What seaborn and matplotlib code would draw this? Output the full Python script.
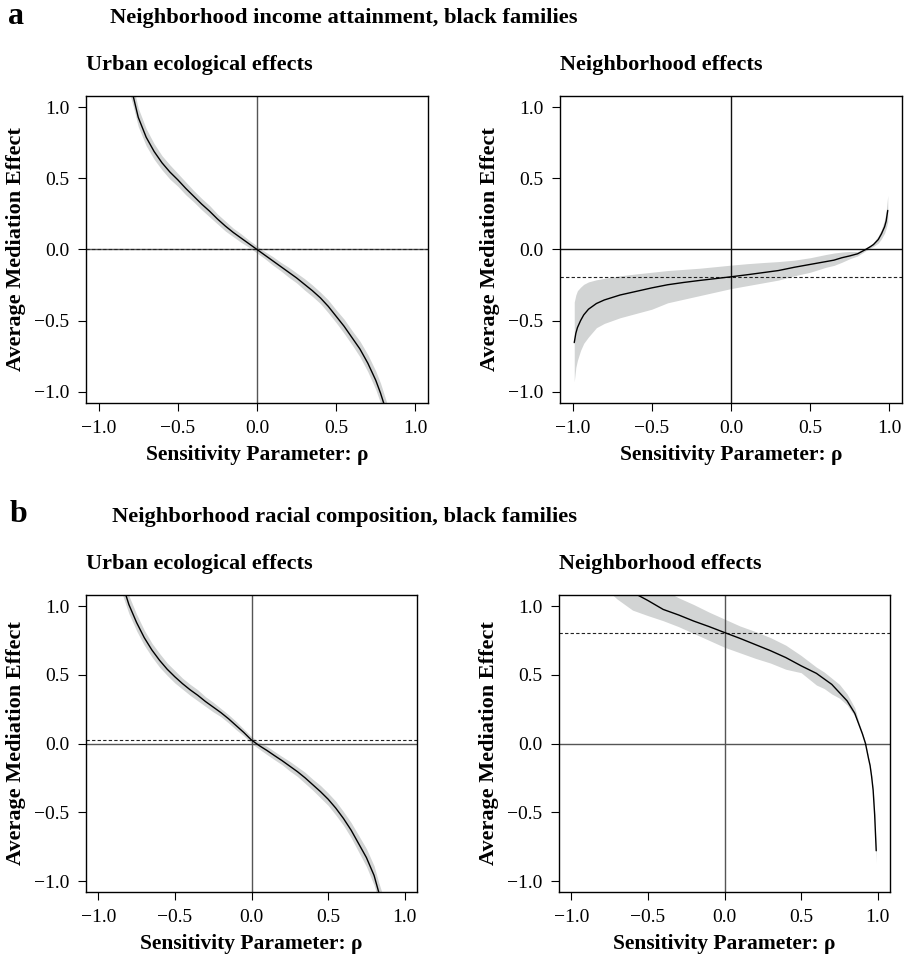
import numpy as np
import pandas as pd
import matplotlib
matplotlib.use("Agg")
import matplotlib.pyplot as plt
import seaborn as sns

# --- a: income attainment, urban ecological effects
a1_rho = [-0.80, -0.78, -0.75, -0.70, -0.65, -0.60, -0.55, -0.50, -0.45, -0.40, -0.35, -0.30,
          -0.25, -0.20, -0.15, -0.10, -0.05, 0.00, 0.05, 0.10, 0.15, 0.20, 0.25, 0.30, 0.35,
          0.40, 0.45, 0.50, 0.55, 0.60, 0.65, 0.70, 0.75, 0.78, 0.80, 0.82]
a1_est = [1.15, 1.07, 0.93, 0.79, 0.69, 0.61, 0.545, 0.49, 0.43, 0.375, 0.32, 0.27,
          0.215, 0.165, 0.12, 0.08, 0.04, 0.00, -0.04, -0.08, -0.12, -0.16, -0.20, -0.245, -0.29,
          -0.34, -0.40, -0.47, -0.54, -0.62, -0.70, -0.80, -0.92, -1.01, -1.08, -1.15]
a1_hw = [0.07, 0.07, 0.065, 0.06, 0.055, 0.05, 0.05, 0.045, 0.045, 0.04, 0.04, 0.04,
         0.035, 0.035, 0.03, 0.03, 0.025, 0.025, 0.025, 0.03, 0.03, 0.035, 0.035, 0.04, 0.04,
         0.04, 0.045, 0.045, 0.05, 0.05, 0.055, 0.06, 0.065, 0.07, 0.07, 0.07]
a1_acme = 0.0

# --- a: income attainment, neighborhood effects
a2_rho = [-0.99, -0.98, -0.97, -0.95, -0.93, -0.90, -0.85, -0.80, -0.70, -0.60, -0.50, -0.40,
          -0.30, -0.20, -0.10, 0.00, 0.10, 0.20, 0.30, 0.40, 0.50, 0.60, 0.65, 0.70, 0.75,
          0.80, 0.85, 0.88, 0.90, 0.93, 0.95, 0.97, 0.98, 0.99]
a2_est = [-0.655, -0.59, -0.55, -0.50, -0.46, -0.42, -0.38, -0.355, -0.32, -0.295, -0.27, -0.248,
          -0.232, -0.218, -0.205, -0.192, -0.178, -0.163, -0.148, -0.125, -0.105, -0.085, -0.075,
          -0.058, -0.045, -0.03, 0.0, 0.02, 0.035, 0.07, 0.11, 0.16, 0.20, 0.275]
a2_hi = [-0.37, -0.32, -0.29, -0.265, -0.245, -0.228, -0.213, -0.203, -0.185, -0.172, -0.16, -0.148,
         -0.14, -0.132, -0.121, -0.11, -0.10, -0.092, -0.085, -0.075, -0.058, -0.035, -0.025,
         -0.018, -0.014, -0.015, 0.005, 0.03, 0.05, 0.095, 0.14, 0.21, 0.27, 0.38]
a2_lo = [-0.93, -0.83, -0.78, -0.71, -0.66, -0.615, -0.55, -0.52, -0.48, -0.45, -0.42, -0.375,
         -0.35, -0.325, -0.30, -0.275, -0.255, -0.235, -0.215, -0.185, -0.16, -0.125, -0.112,
         -0.09, -0.065, -0.045, -0.01, 0.01, 0.022, 0.045, 0.075, 0.115, 0.15, 0.195]
a2_acme = -0.192

# --- b: racial composition, urban ecological effects
b1_rho = [-0.85, -0.82, -0.80, -0.75, -0.70, -0.65, -0.60, -0.55, -0.50, -0.45, -0.40, -0.35,
          -0.30, -0.25, -0.20, -0.15, -0.10, -0.05, 0.00, 0.05, 0.10, 0.15, 0.20, 0.25, 0.30,
          0.35, 0.40, 0.45, 0.50, 0.55, 0.60, 0.65, 0.70, 0.75, 0.80, 0.83, 0.85]
b1_est = [1.18, 1.08, 1.01, 0.88, 0.77, 0.68, 0.605, 0.54, 0.485, 0.435, 0.39, 0.35,
          0.305, 0.265, 0.225, 0.18, 0.13, 0.08, 0.025, -0.015, -0.05, -0.088, -0.125, -0.165, -0.205,
          -0.25, -0.30, -0.35, -0.405, -0.47, -0.545, -0.63, -0.73, -0.83, -0.96, -1.08, -1.15]
b1_hw = [0.07, 0.07, 0.065, 0.06, 0.055, 0.05, 0.05, 0.045, 0.045, 0.04, 0.04, 0.04,
         0.035, 0.035, 0.03, 0.03, 0.03, 0.025, 0.025, 0.025, 0.03, 0.03, 0.03, 0.035, 0.035,
         0.04, 0.04, 0.045, 0.045, 0.05, 0.05, 0.055, 0.06, 0.065, 0.07, 0.07, 0.07]
b1_acme = 0.025

# --- b: racial composition, neighborhood effects
b2_rho = [-0.80, -0.73, -0.70, -0.60, -0.50, -0.40, -0.30, -0.20, -0.10, 0.00, 0.10, 0.20,
          0.30, 0.40, 0.50, 0.60, 0.65, 0.70, 0.75, 0.80, 0.85, 0.88, 0.90, 0.92, 0.94,
          0.95, 0.96, 0.97, 0.98, 0.99]
b2_est = [1.25, 1.18, 1.16, 1.10, 1.04, 0.975, 0.935, 0.89, 0.85, 0.807, 0.765, 0.72,
          0.675, 0.625, 0.565, 0.51, 0.47, 0.43, 0.37, 0.31, 0.22, 0.13, 0.07, 0.0, -0.11,
          -0.16, -0.24, -0.34, -0.52, -0.78]
b2_hi = [1.40, 1.35, 1.33, 1.26, 1.19, 1.12, 1.06, 1.01, 0.955, 0.905, 0.855, 0.815,
         0.77, 0.715, 0.64, 0.555, 0.52, 0.475, 0.43, 0.36, 0.26, 0.145, 0.08, 0.01, -0.10,
         -0.155, -0.23, -0.33, -0.50, -0.77]
b2_lo = [1.16, 1.08, 1.05, 0.97, 0.93, 0.893, 0.85, 0.80, 0.75, 0.70, 0.66, 0.62,
         0.585, 0.54, 0.515, 0.425, 0.40, 0.36, 0.33, 0.28, 0.20, 0.12, 0.06, -0.01, -0.12,
         -0.18, -0.26, -0.36, -0.56, -0.87]
b2_acme = 0.807

ticks = [-1.0, -0.5, 0.0, 0.5, 1.0]
tick_labels = ["−1.0", "−0.5", "0.0", "0.5", "1.0"]

sns.set_style("ticks", {"text.color": "black", "axes.labelcolor": "black",
                        "xtick.color": "black", "ytick.color": "black"})
plt.rcParams['font.family'] = ['Liberation Serif', 'DejaVu Serif']

W, H = 909, 957
fig = plt.figure(figsize=(W / 100, H / 100), dpi=100)


def box(x0, y0, x1, y1):
    return [x0 / W, 1 - y1 / H, (x1 - x0) / W, (y1 - y0) / H]


a1_lo = [e - h for e, h in zip(a1_est, a1_hw)]
a1_hi = [e + h for e, h in zip(a1_est, a1_hw)]
b1_lo = [e - h for e, h in zip(b1_est, b1_hw)]
b1_hi = [e + h for e, h in zip(b1_est, b1_hw)]

panels = [
    (box(86, 96, 428, 403), a1_rho, a1_est, a1_lo, a1_hi, a1_acme, "Urban ecological effects", "#555555"),
    (box(560, 96, 902, 403), a2_rho, a2_est, a2_lo, a2_hi, a2_acme, "Neighborhood effects", "#111111"),
    (box(86, 595, 417, 892), b1_rho, b1_est, b1_lo, b1_hi, b1_acme, "Urban ecological effects", "#555555"),
    (box(559, 595, 890, 892), b2_rho, b2_est, b2_lo, b2_hi, b2_acme, "Neighborhood effects", "#555555"),
]

for rect, rho, est, lo, hi, acme, sub, zc in panels:
    ax = fig.add_axes(rect)
    df = pd.DataFrame({"rho": rho, "est": est, "lo": lo, "hi": hi})
    ax.fill_between(df["rho"], df["lo"], df["hi"], color="#d2d4d4", lw=0, zorder=1)
    sns.lineplot(data=df, x="rho", y="est", ax=ax, color="black", lw=1.0, zorder=3)
    ax.axhline(0, color=zc, lw=1.0, zorder=2)
    ax.axvline(0, color=zc, lw=1.0, zorder=2)
    ax.axhline(acme, color="#222222", lw=0.8, ls=(0, (3, 2)), zorder=2)
    ax.set_xlim(-1.08, 1.08)
    ax.set_ylim(-1.08, 1.08)
    ax.set_xticks(ticks)
    ax.set_xticklabels(tick_labels)
    ax.set_yticks(ticks)
    ax.set_yticklabels(tick_labels)
    ax.tick_params(direction="out", length=6, width=0.8, colors="black",
                   labelsize=14, pad=6)
    for s in ax.spines.values():
        s.set_linewidth(1.0)
        s.set_color("black")
    ax.set_xlabel("Sensitivity Parameter: ρ", fontsize=15.5, fontweight="bold", labelpad=6)
    ax.set_ylabel("Average Mediation Effect", fontsize=16, fontweight="bold", labelpad=6)
    x0 = rect[0]
    top = rect[1] + rect[3]
    fig.text(x0, top + 26 / H, sub, fontsize=16, fontweight="bold", ha="left", va="baseline")

fig.text(8 / W, 1 - 24 / H, "a", fontsize=23, fontweight="bold", va="baseline")
fig.text(110 / W, 1 - 23 / H, "Neighborhood income attainment, black families",
         fontsize=16.2, fontweight="bold", va="baseline")
fig.text(10 / W, 1 - 522 / H, "b", fontsize=23, fontweight="bold", va="baseline")
fig.text(112 / W, 1 - 522 / H, "Neighborhood racial composition, black families",
         fontsize=16.2, fontweight="bold", va="baseline")

fig.savefig("out.png", dpi=100)
